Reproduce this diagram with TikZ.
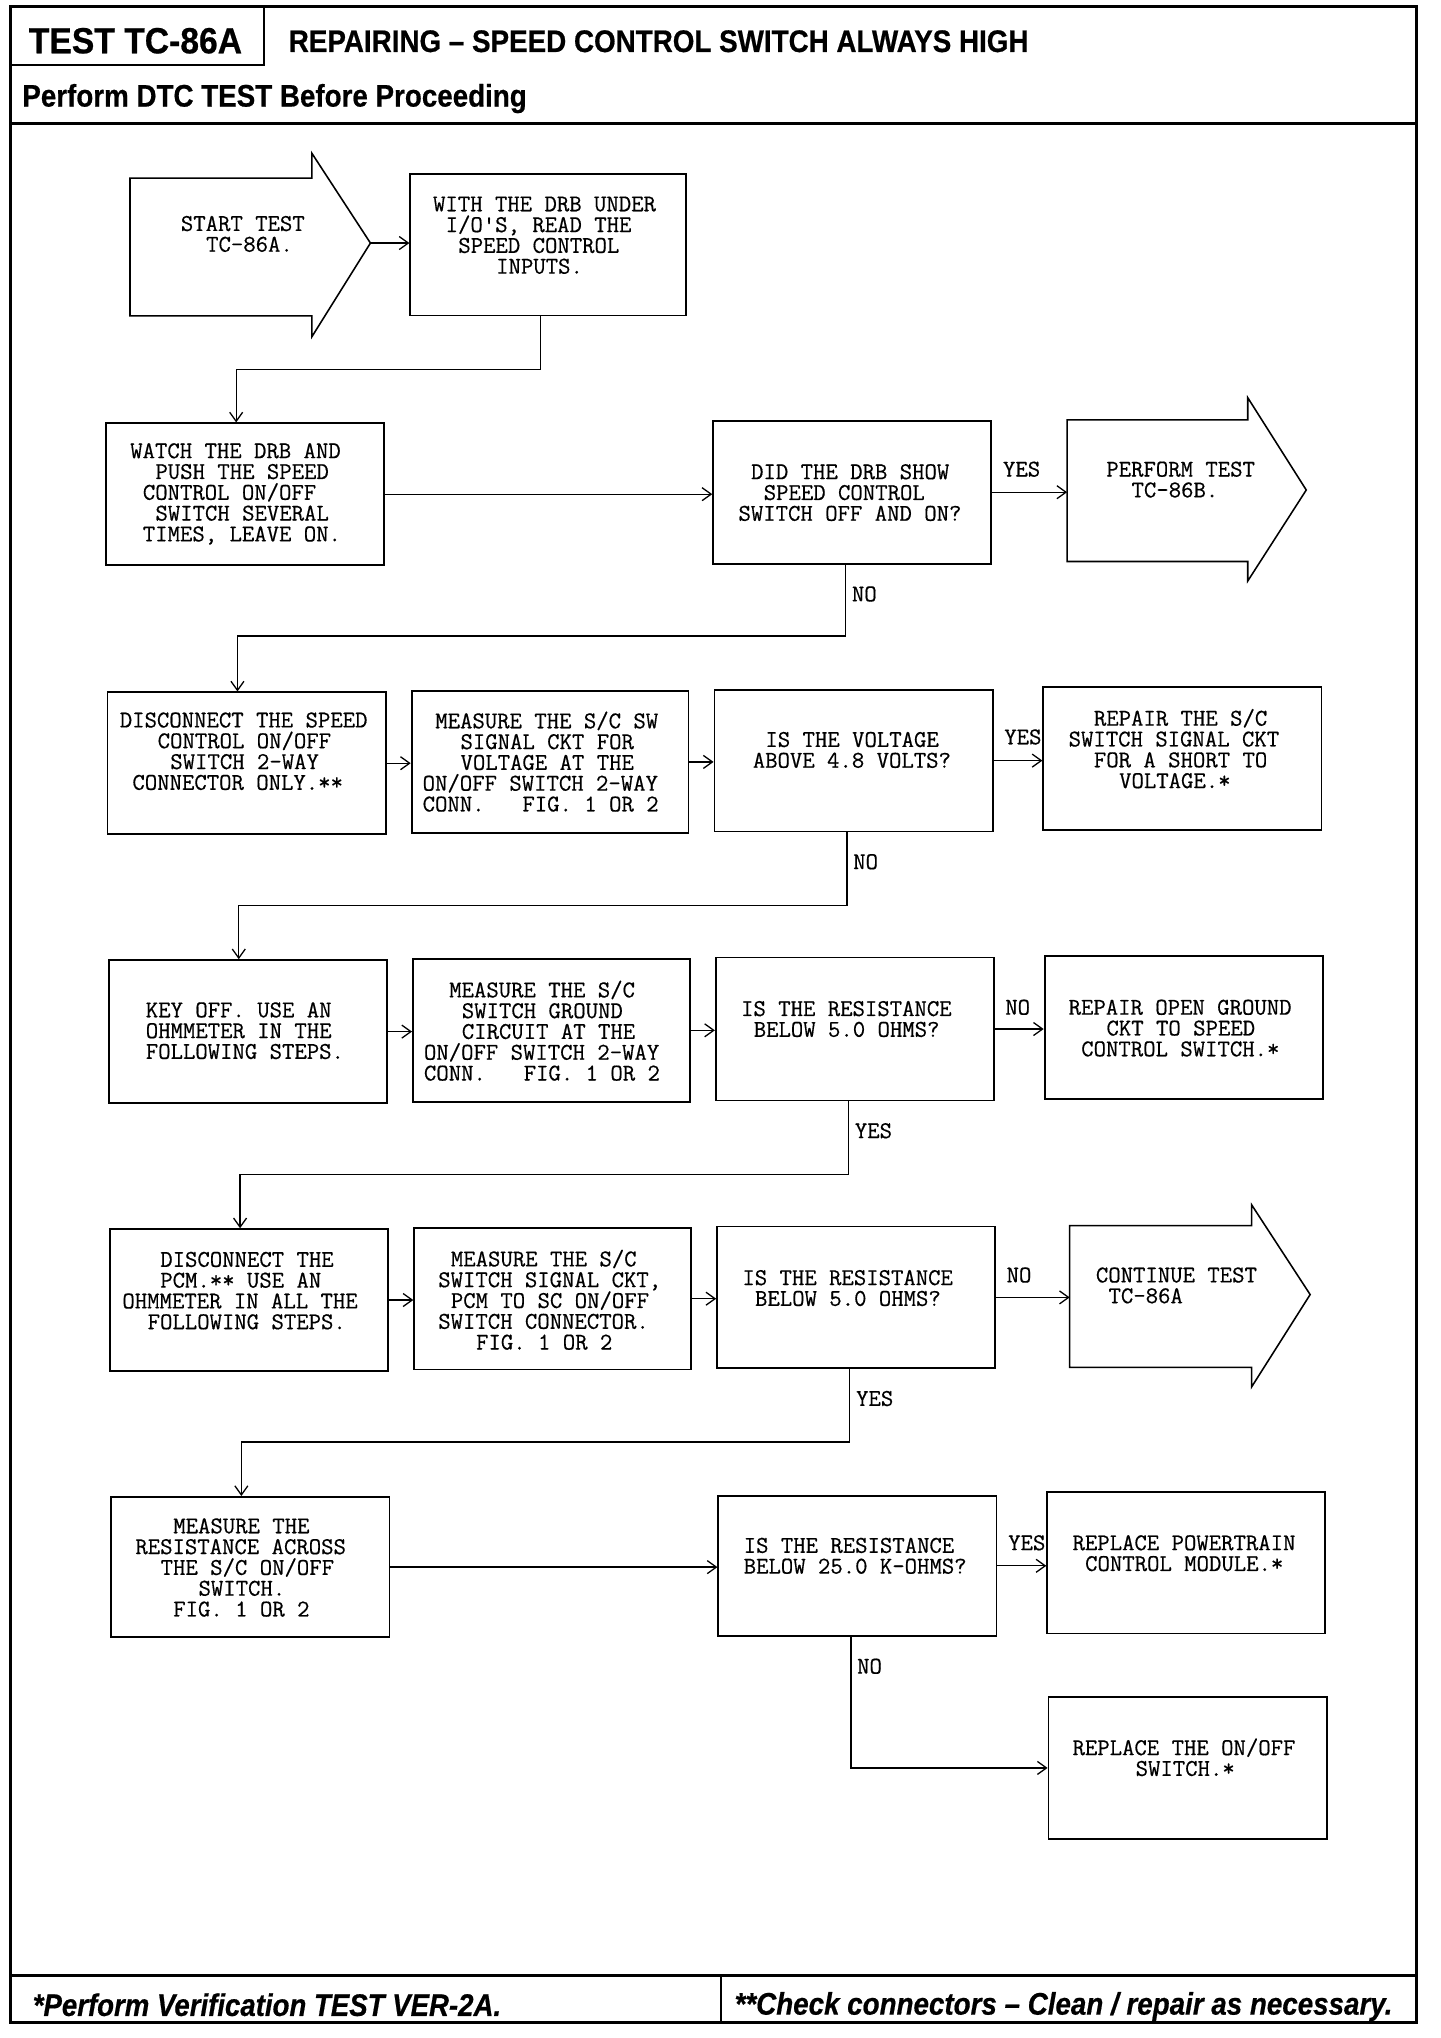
\documentclass[tikz,border=0pt]{standalone}
\usepackage{fontspec}
\usepackage{graphicx}
\setmainfont{Liberation Sans}
\newfontfamily\monof{Latin Modern Mono}[FakeBold=0.5]
\newfontfamily\hdf{Liberation Sans}[FakeBold=0.6]
\usetikzlibrary{arrows.meta,calc}
\newcommand{\pad}[1]{\hspace*{#1\dimexpr0.525em\relax}}
\begin{document}
\begin{tikzpicture}[x=1pt,y=-1pt,
  box/.style={draw, line width=1.4pt, rectangle, inner sep=0pt, anchor=north west},
  ashape/.style={draw, line width=1.2pt, line join=miter},
  txt/.style={anchor=west, inner sep=0pt, align=left, font=\monof\fontsize{18.5}{16}\selectfont},
  lab/.style={inner sep=0pt, font=\monof\fontsize{18.5}{16}\selectfont},
  con/.style={line width=1pt},
  arr/.style={con, -{Straight Barb[length=7pt,width=10pt]}},
  frame/.style={line width=2.4pt},
  hdr/.style={line width=1.5pt},
  big/.style={anchor=base west, inner sep=0pt, font=\hdf\bfseries\fontsize{28}{28}\selectfont},
  head/.style={anchor=base west, inner sep=0pt, font=\hdf\bfseries\fontsize{24}{24}\selectfont},
  foot/.style={anchor=base west, inner sep=0pt, font=\hdf\bfseries\itshape\fontsize{24}{24}\selectfont},
]
\useasboundingbox (0,0) rectangle (1108,1568);
\fill[white] (0,0) rectangle (1108,1568);

% frame and header / footer
\draw[frame] (8,5) rectangle (1090,1556);
\draw[frame] (8,95) -- (1090,95);
\draw[frame] (8,1520) -- (1090,1520);
\draw[hdr] (555,1520) -- (555,1556);
\draw[hdr] (203,5) -- (203,50) -- (8,50);
\node[big] (tid) at (22,41) {\scalebox{0.925}[1]{TEST TC-86A}};
\node[head] (ttl) at (222,40) {\scalebox{0.891}[1]{REPAIRING – SPEED CONTROL SWITCH ALWAYS HIGH}};
\node[head] (pre) at (17,82) {\scalebox{0.89}[1]{Perform DTC TEST Before Proceeding}};
\node[foot] (f1) at (25,1551) {\scalebox{0.885}[1]{*Perform Verification TEST VER-2A.}};
\node[foot] (f2) at (565,1550) {\scalebox{0.89}[1]{**Check connectors – Clean / repair as necessary.}};

% arrow shapes
\draw[ashape] (100,137) -- (240,137) -- (240,118) -- (285,187) -- (240,259) -- (240,243) -- (100,243) -- cycle;
\coordinate (sttip) at (285,187);
\node[txt] (tst) at (139,180) {START TEST\\\pad{2}TC-86A.};

\draw[ashape] (821,323) -- (960,323) -- (960,306) -- (1005,377) -- (960,447) -- (960,432) -- (821,432) -- cycle;
\coordinate (p86w) at (821,377);
\node[txt] (tp86) at (851,369) {PERFORM TEST\\\pad{2}TC-86B.};

\draw[ashape] (823,943) -- (963,943) -- (963,927) -- (1008,996) -- (963,1067) -- (963,1052) -- (823,1052) -- cycle;
\coordinate (contw) at (823,996);
\node[txt] (tcont) at (843,989) {CONTINUE TEST\\\pad{1}TC-86A};

% boxes
\node[box, minimum width=212pt, minimum height=109pt] (box1) at (315,133) {};
\node[box, minimum width=214pt, minimum height=109pt] (box2) at (81,325) {};
\node[box, minimum width=214pt, minimum height=110pt] (dec1) at (548,323) {};
\node[box, minimum width=214pt, minimum height=109pt] (box3) at (82,532) {};
\node[box, minimum width=213pt, minimum height=109pt] (box4) at (316,531) {};
\node[box, minimum width=214pt, minimum height=109pt] (dec2) at (549,530) {};
\node[box, minimum width=214pt, minimum height=110pt] (box5) at (802,528) {};
\node[box, minimum width=214pt, minimum height=110pt] (box6) at (83,738) {};
\node[box, minimum width=213pt, minimum height=110pt] (box7) at (317,737) {};
\node[box, minimum width=214pt, minimum height=110pt] (dec3) at (550,736) {};
\node[box, minimum width=214pt, minimum height=110pt] (box8) at (803,735) {};
\node[box, minimum width=214pt, minimum height=109pt] (box9) at (84,945) {};
\node[box, minimum width=213pt, minimum height=109pt] (box10) at (318,944) {};
\node[box, minimum width=214pt, minimum height=109pt] (dec4) at (551,943) {};
\node[box, minimum width=214pt, minimum height=108pt] (box11) at (85,1151) {};
\node[box, minimum width=214pt, minimum height=108pt] (dec5) at (552,1150) {};
\node[box, minimum width=214pt, minimum height=109pt] (box12) at (805,1147) {};
\node[box, minimum width=214pt, minimum height=109pt] (box13) at (806,1305) {};

% texts
\node[txt] (t1) at (333,181) {WITH THE DRB UNDER\\\pad{1}I/O'S, READ THE\\\pad{2}SPEED CONTROL\\\pad{5}INPUTS.};
\node[txt] (t2) at (100,380) {WATCH THE DRB AND\\\pad{2}PUSH THE SPEED\\\pad{1}CONTROL ON/OFF\\\pad{2}SWITCH SEVERAL\\\pad{1}TIMES, LEAVE ON.};
\node[txt] (td1) at (568,379) {\pad{1}DID THE DRB SHOW\\\pad{2}SPEED CONTROL\\SWITCH OFF AND ON?};
\node[txt] (t3) at (92,578) {DISCONNECT THE SPEED\\\pad{3}CONTROL ON/OFF\\\pad{4}SWITCH 2-WAY\\\pad{1}CONNECTOR ONLY.**};
\node[txt] (t4) at (325,586) {\pad{1}MEASURE THE S/C SW\\\pad{3}SIGNAL CKT FOR\\\pad{3}VOLTAGE AT THE\\ON/OFF SWITCH 2-WAY\\CONN.\pad{3}FIG. 1 OR 2};
\node[txt] (td2) at (579,577) {\pad{1}IS THE VOLTAGE\\ABOVE 4.8 VOLTS?};
\node[txt] (t5) at (822,576) {\pad{2}REPAIR THE S/C\\SWITCH SIGNAL CKT\\\pad{2}FOR A SHORT TO\\\pad{4}VOLTAGE.*};
\node[txt] (t6) at (112,793) {KEY OFF. USE AN\\OHMMETER IN THE\\FOLLOWING STEPS.};
\node[txt] (t7) at (326,793) {\pad{2}MEASURE THE S/C\\\pad{3}SWITCH GROUND\\\pad{3}CIRCUIT AT THE\\ON/OFF SWITCH 2-WAY\\CONN.\pad{3}FIG. 1 OR 2};
\node[txt] (td3) at (570,784) {IS THE RESISTANCE\\\pad{1}BELOW 5.0 OHMS?};
\node[txt] (t8) at (822,791) {REPAIR OPEN GROUND\\\pad{3}CKT TO SPEED\\\pad{1}CONTROL SWITCH.*};
\node[txt] (t9) at (94,993) {\pad{3}DISCONNECT THE\\\pad{3}PCM.** USE AN\\OHMMETER IN ALL THE\\\pad{2}FOLLOWING STEPS.};
\node[txt] (t10) at (337,1000) {\pad{1}MEASURE THE S/C\\SWITCH SIGNAL CKT,\\\pad{1}PCM TO SC ON/OFF\\SWITCH CONNECTOR.\\\pad{3}FIG. 1 OR 2};
\node[txt] (td4) at (571,991) {IS THE RESISTANCE\\\pad{1}BELOW 5.0 OHMS?};
\node[txt] (t11) at (104,1206) {\pad{3}MEASURE THE\\RESISTANCE ACROSS\\\pad{2}THE S/C ON/OFF\\\pad{5}SWITCH.\\\pad{3}FIG. 1 OR 2};
\node[txt] (td5) at (572,1197) {IS THE RESISTANCE\\BELOW 25.0 K-OHMS?};
\node[txt] (t12) at (825,1195) {REPLACE POWERTRAIN\\\pad{1}CONTROL MODULE.*};
\node[txt] (t13) at (825,1352) {REPLACE THE ON/OFF\\\pad{5}SWITCH.*};

% connectors
\draw[arr] (sttip) -- (sttip -| box1.west);
\draw[arr] ([xshift=-6pt]box1.south) -- ++(0,41) -| ([xshift=-7pt]box2.north);
\draw[arr] (box2.east) -- (box2.east -| dec1.west);
\draw[arr] (dec1.east) -- (dec1.east -| p86w);
\draw[arr] ([xshift=-5pt]dec1.south) -- ++(0,55) -| ([xshift=-7pt]box3.north);

\draw[arr] (box3.east) -- (box3.east -| box4.west);
\draw[arr] (box4.east) -- (box4.east -| dec2.west);
\draw[arr] (dec2.east) -- (dec2.east -| box5.west);
\draw[arr] ([xshift=-5pt]dec2.south) -- ++(0,56) -| ([xshift=-7pt]box6.north);

\draw[arr] (box6.east) -- (box6.east -| box7.west);
\draw[arr] (box7.east) -- (box7.east -| dec3.west);
\draw[arr] (dec3.east) -- (dec3.east -| box8.west);
\draw[arr] ([xshift=-5pt]dec3.south) -- ++(0,56) -| ([xshift=-7pt]box9.north);

\draw[arr] (box9.east) -- (box9.east -| box10.west);
\draw[arr] (box10.east) -- (box10.east -| dec4.west);
\draw[arr] (dec4.east) -- (dec4.east -| contw);
\draw[arr] ([xshift=-5pt]dec4.south) -- ++(0,56) -| ([xshift=-7pt]box11.north);

\draw[arr] (box11.east) -- (box11.east -| dec5.west);
\draw[arr] (dec5.east) -- (dec5.east -| box12.west);
\draw[arr] ([xshift=-5pt]dec5.south) |- (box13.west);

% labels
\node[lab] (l1y) at (786,361) {YES};
\node[lab] (l1n) at (665,457) {NO};
\node[lab] (l2y) at (787,567) {YES};
\node[lab] (l2n) at (666,663) {NO};
\node[lab] (l3n) at (783,775) {NO};
\node[lab] (l3y) at (672,870) {YES};
\node[lab] (l4n) at (784,981) {NO};
\node[lab] (l4y) at (673,1076) {YES};
\node[lab] (l5y) at (790,1187) {YES};
\node[lab] (l5n) at (669,1282) {NO};
\end{tikzpicture}
\end{document}
